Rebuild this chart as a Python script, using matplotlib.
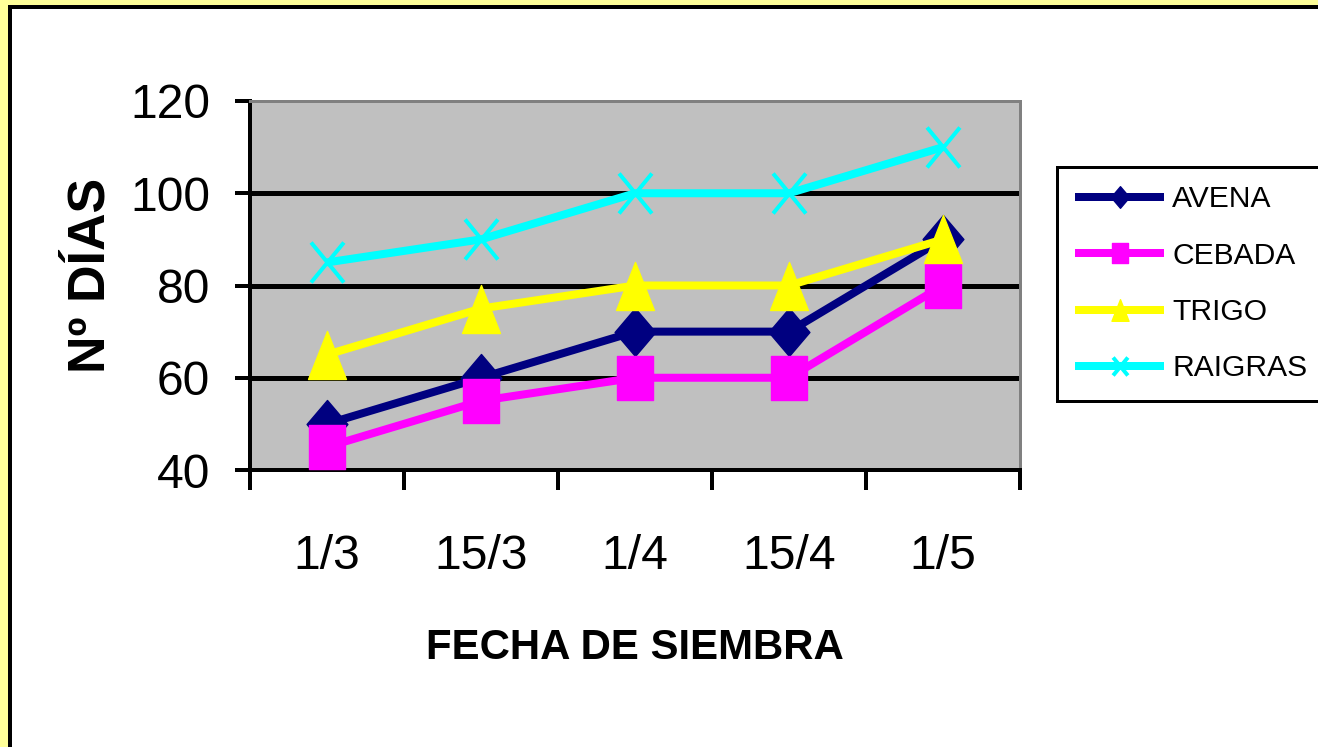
import matplotlib
matplotlib.use("Agg")
import matplotlib.pyplot as plt
from matplotlib.patches import Rectangle
from matplotlib.path import Path
import numpy as np

# Sowing dates and days to stage for each cereal
fechas = ["1/3", "15/3", "1/4", "15/4", "1/5"]
avena = [50, 60, 70, 70, 90]
cebada = [45, 55, 60, 60, 80]
trigo = [65, 75, 80, 80, 90]
raigras = [85, 90, 100, 100, 110]
y_ticks = [40, 60, 80, 100, 120]

W, H, DPI = 1318, 747, 100
PX = 72 / DPI  # points per pixel

FONT = ["Liberation Sans", "DejaVu Sans"]

fig = plt.figure(figsize=(W / DPI, H / DPI), dpi=DPI)
fig.patch.set_facecolor("#FFFF99")

# white chart area with a black frame
frame = Rectangle((10 / W, -0.2), 1.2, 1 - 7 / H + 0.2, transform=fig.transFigure,
                  facecolor="white", edgecolor="black", linewidth=4 * PX, zorder=0)
fig.add_artist(frame)

left, right, top, bottom = 250, 1020, 101, 470
ax = fig.add_axes([left / W, 1 - bottom / H, (right - left) / W, (bottom - top) / H])
ax.set_facecolor("#C0C0C0")
ax.set_zorder(1)

# marker shapes (slightly taller than wide)
diamond = Path([(0, 1), (0.85, 0), (0, -1), (-0.85, 0), (0, 1)],
               [Path.MOVETO, Path.LINETO, Path.LINETO, Path.LINETO, Path.CLOSEPOLY])
square = Path([(-0.82, -1), (0.82, -1), (0.82, 1), (-0.82, 1), (-0.82, -1)],
              [Path.MOVETO, Path.LINETO, Path.LINETO, Path.LINETO, Path.CLOSEPOLY])
triangle = Path([(0, 1), (0.79, -1), (-0.79, -1), (0, 1)],
                [Path.MOVETO, Path.LINETO, Path.LINETO, Path.CLOSEPOLY])
cross = Path([(-0.82, -1), (0.82, 1), (-0.82, 1), (0.82, -1)],
             [Path.MOVETO, Path.LINETO, Path.MOVETO, Path.LINETO])

x = np.arange(len(fechas)) + 0.5
lw = 8 * PX
series = [
    ("AVENA", avena, "#000080", diamond, 48),
    ("CEBADA", cebada, "#FF00FF", square, 44),
    ("TRIGO", trigo, "#FFFF00", triangle, 48),
    ("RAIGRAS", raigras, "#00FFFF", cross, 40),
]
for name, vals, col, mk, size in series:
    if mk is cross:
        ax.plot(x, vals, color=col, lw=lw, marker=mk, markersize=size * PX,
                markerfacecolor="none", markeredgecolor=col, markeredgewidth=4 * PX,
                label=name, zorder=3, solid_capstyle="butt")
    else:
        ax.plot(x, vals, color=col, lw=lw, marker=mk, markersize=size * PX,
                markerfacecolor=col, markeredgecolor=col, markeredgewidth=1,
                label=name, zorder=3, solid_capstyle="butt")

ax.set_xlim(0, len(fechas))
ax.set_ylim(40, 120)
ax.set_yticks(y_ticks)
ax.set_yticklabels([str(v) for v in y_ticks], fontfamily=FONT, fontsize=48 * PX)
ax.set_xticks(np.arange(len(fechas) + 1))
ax.set_xticklabels([])
ax.set_xticks(x, minor=True)
ax.set_xticklabels(fechas, minor=True, fontfamily=FONT, fontsize=48 * PX)

ax.tick_params(axis="y", which="major", length=15 * PX, width=4 * PX, pad=25 * PX,
               direction="out")
ax.tick_params(axis="x", which="major", length=20 * PX, width=4 * PX, direction="out")
ax.tick_params(axis="x", which="minor", length=0, pad=64 * PX)

for yv in y_ticks[1:-1]:
    ax.axhline(yv, color="black", lw=5 * PX, zorder=1)

for s in ("left", "bottom"):
    ax.spines[s].set_color("black")
    ax.spines[s].set_linewidth(4 * PX)
for s in ("top", "right"):
    ax.spines[s].set_color("#808080")
    ax.spines[s].set_linewidth(3 * PX)

fig.text(91 / W, 1 - 275 / H, "Nº DÍAS", rotation=90, ha="center", va="center",
         fontfamily=FONT, fontweight="bold", fontsize=52 * PX)
fig.text(635 / W, 1 - 648 / H, "FECHA DE SIEMBRA", ha="center", va="center",
         fontfamily=FONT, fontweight="bold", fontsize=42 * PX)

leg = fig.legend(loc="upper left", bbox_to_anchor=(1057 / W, 1 - 167 / H),
                 bbox_transform=fig.transFigure, borderaxespad=0,
                 prop={"family": FONT, "size": 30 * PX},
                 handlelength=2.97, handletextpad=0.27, borderpad=0.6,
                 labelspacing=0.95, markerscale=0.45, fancybox=False,
                 framealpha=1, edgecolor="black")
leg.get_frame().set_linewidth(3 * PX)
leg.set_zorder(5)

fig.savefig("out.png", dpi=DPI, facecolor=fig.get_facecolor())
